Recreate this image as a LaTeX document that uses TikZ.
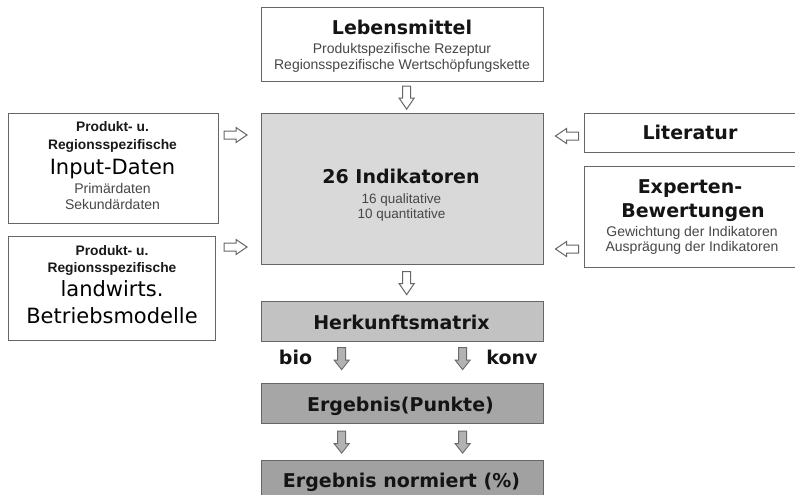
\documentclass[tikz,border=0pt]{standalone}
\usepackage{fontspec}
\setmainfont{Liberation Sans}
\newfontfamily\dvs{DejaVu Sans}
\usetikzlibrary{calc}
\begin{document}
\begin{tikzpicture}[x=1pt,y=-1pt,
  box/.style={draw=black!60, line width=1.3pt, fill=white, inner sep=0pt, anchor=north west},
  txt/.style={inner sep=0pt, anchor=base},
  bigb/.style={txt, font=\dvs\bfseries\fontsize{19}{22}\selectfont, text=black!92},
  bigr/.style={txt, font=\dvs\fontsize{21}{24}\selectfont, text=black},
  smallr/.style={txt, font=\fontsize{14}{16}\selectfont, text=black!72},
  smallq/.style={txt, font=\fontsize{13.5}{16}\selectfont, text=black!72},
  smallb/.style={txt, font=\bfseries\fontsize{13.8}{16}\selectfont, text=black!90},
  hollow/.style={draw=black!60, fill=white, line width=1pt},
  grayarr/.style={draw=black!58, fill=black!30, line width=0.9pt},
  harrow/.pic={\path[pic actions] (-11.5,-4) -- (0.5,-4) -- (0.5,-7.5) -- (11.5,0) -- (0.5,7.5) -- (0.5,4) -- (-11.5,4) -- cycle;},
  garrow/.pic={\path[pic actions] (-11,-4) -- (1.5,-4) -- (1.5,-7.5) -- (11,0) -- (1.5,7.5) -- (1.5,4) -- (-11,4) -- cycle;}
]
\fill[white] (0,0) rectangle (795,495);
\clip (0,0) rectangle (795,495);

% boxes
\node[box, minimum width=282pt, minimum height=74pt] (leb) at (261,7) {};
\node[box, fill=black!15, minimum width=282pt, minimum height=151pt] (ind) at (261,113) {};
\node[box, minimum width=210pt, minimum height=110pt] (inp) at (8,113) {};
\node[box, minimum width=207pt, minimum height=104pt] (lw) at (8,236) {};
\node[box, minimum width=220pt, minimum height=39pt] (lit) at (584,113) {};
\node[box, minimum width=220pt, minimum height=101pt] (exp) at (584,166) {};
\node[box, fill=black!24, minimum width=282pt, minimum height=40pt] (herk) at (261,301) {};
\node[box, fill=black!35, minimum width=282pt, minimum height=40pt] (erg) at (261,383) {};
\node[box, fill=black!37, minimum width=282pt, minimum height=50pt] (norm) at (261,460) {};

% texts
\node[bigb] (tleb) at (402,35) {Lebensmittel};
\node[smallr] (tleb1) at (402,53) {Produktspezifische Rezeptur};
\node[smallr] (tleb2) at (402,70) {Regionsspezifische Wertschöpfungskette};

\node[bigb] (tind) at (401,183) {26 Indikatoren};
\node[smallq] (tind1) at (401.5,203) {16 qualitative};
\node[smallq] (tind2) at (401.5,218) {10 quantitative};

\node[smallb] (tinp1) at (112.5,131) {Produkt- u.};
\node[smallb] (tinp2) at (112.5,149) {Regionsspezifische};
\node[bigr] (tinp3) at (112.5,174) {Input-Daten};
\node[smallr] (tinp4) at (112.5,193) {Primärdaten};
\node[smallr] (tinp5) at (112.5,209) {Sekundärdaten};

\node[smallb] (tlw1) at (112,255) {Produkt- u.};
\node[smallb] (tlw2) at (112,272) {Regionsspezifische};
\node[bigr] (tlw3) at (112,296) {landwirts.};
\node[bigr] (tlw4) at (112,323) {Betriebsmodelle};

\node[bigb] (tlit) at (690,139) {Literatur};

\node[bigb] (texp1) at (690,193) {Experten-};
\node[bigb] (texp2) at (693,217) {Bewertungen};
\node[smallr] (texp3) at (692,236) {Gewichtung der Indikatoren};
\node[smallr] (texp4) at (692,251) {Ausprägung der Indikatoren};

\node[bigb] (therk) at (401.5,329) {Herkunftsmatrix};
\node[bigb] (terg) at (400.5,411) {Ergebnis(Punkte)};
\node[bigb] (tnorm) at (401.5,487) {Ergebnis normiert (\%)};

\node[bigb] (tbio) at (295.5,364) {bio};
\node[bigb] (tkonv) at (512,364) {konv};

% hollow arrows
\pic[hollow, rotate=-90] at ($(leb.south)!0.5!(ind.north)+(4,0)$) {harrow};
\pic[hollow] at (235.5,135) {harrow};
\pic[hollow] at (235.5,247) {harrow};
\pic[hollow, rotate=180] at (567,136) {harrow};
\pic[hollow, rotate=180] at (567,249) {harrow};
\pic[hollow, rotate=-90] at ($(ind.south)!0.5!(herk.north)+(4,0)$) {harrow};

% gray arrows
\pic[grayarr, rotate=-90] at ($(herk.south)!0.5!(erg.north)+(-61,-4)$) {garrow};
\pic[grayarr, rotate=-90] at ($(herk.south)!0.5!(erg.north)+(60,-4)$) {garrow};
\pic[grayarr, rotate=-90] at ($(erg.south)!0.5!(norm.north)+(-61,0)$) {garrow};
\pic[grayarr, rotate=-90] at ($(erg.south)!0.5!(norm.north)+(60,0)$) {garrow};
\end{tikzpicture}
\end{document}
